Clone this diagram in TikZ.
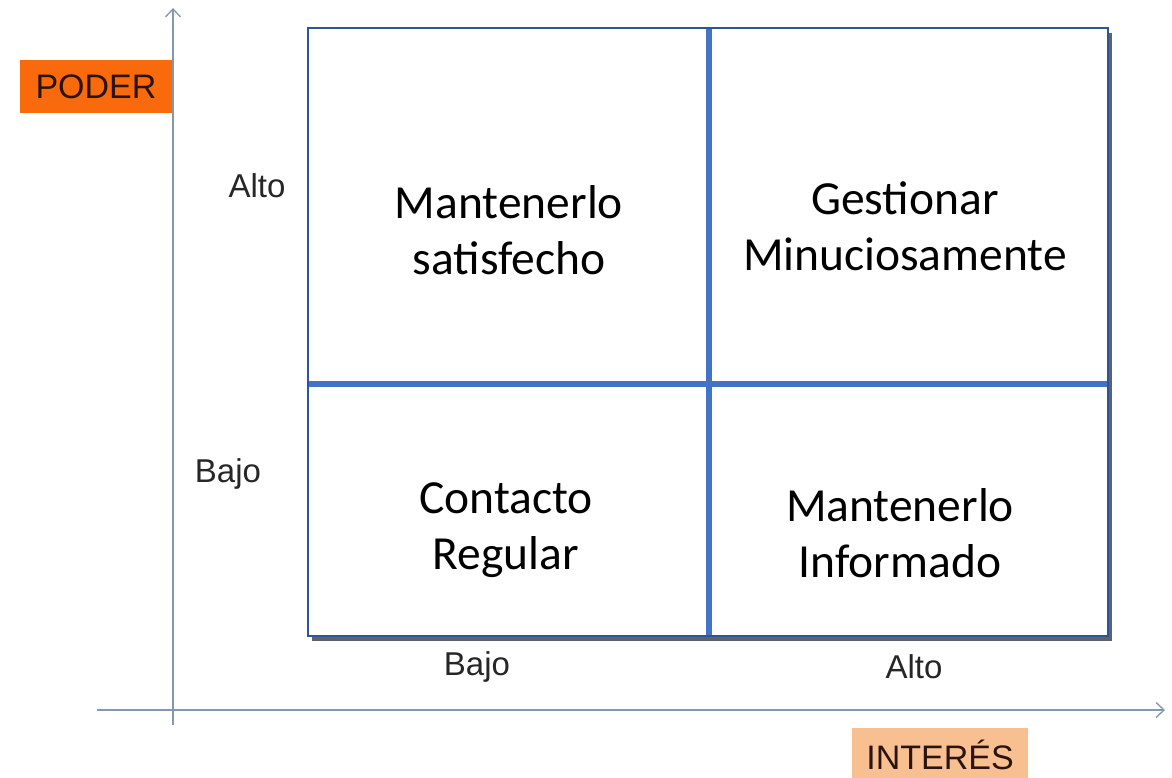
\documentclass[tikz,border=0pt]{standalone}
\usepackage{fontspec}
\setmainfont{Liberation Sans}
\newfontfamily\quadfont{Carlito}
\usetikzlibrary{arrows.meta}
\definecolor{axisgray}{HTML}{8497B0}
\definecolor{gridblue}{HTML}{4472C4}
\definecolor{borderblue}{HTML}{2F5597}
\definecolor{shadowgray}{HTML}{5A6470}
\definecolor{poderorange}{HTML}{F96A0C}
\definecolor{interesorange}{HTML}{F8BF90}
\definecolor{tagtext}{HTML}{2A1410}

\begin{document}
\begin{tikzpicture}[x=1pt, y=-1pt,
    axis/.style={draw=axisgray, line width=1.3pt, -{Straight Barb[length=8pt, width=15pt]}},
    level/.style={font=\fontsize{33}{38}\selectfont, text=black!85, inner sep=0pt},
    quad/.style={font=\quadfont\fontsize{47.5}{56}\selectfont, align=center, inner sep=0pt},
    tag/.style={font=\fontsize{34}{38}\selectfont, text=tagtext, inner sep=0pt}]
        \clip (0,0) rectangle (1172,778);
        \fill[white] (0,0) rectangle (1172,778);

        % axes
        \coordinate (yfoot) at (173,725);
        \coordinate (ytip) at (173,8);
        \coordinate (xfoot) at (97,710);
        \coordinate (xtip) at (1165,710);
        \draw[axis] (yfoot) -- (ytip);
        \draw[axis] (xfoot) -- (xtip);

        % grid corners and middles
        \coordinate (nw) at (308,28);
        \coordinate (se) at (1108,636);
        \coordinate (tm) at (709,28);
        \coordinate (bm) at (709,636);
        \coordinate (ml) at (308,384);
        \coordinate (mr) at (1108,384);
        \fill[shadowgray] ([shift={(4,5)}]nw) rectangle ([shift={(4,5)}]se);
        \fill[white] (nw) rectangle (se);
        \draw[gridblue, line width=6pt] (tm) -- (bm);
        \draw[gridblue, line width=6pt] (ml) -- (mr);
        \draw[borderblue, line width=2.5pt] (nw) rectangle (se);

        % quadrants
        \node[quad] (satisfecho) at (509,230) {Mantenerlo\\satisfecho};
        \node[quad] (gestionar) at (905,226) {Gestionar\\Minuciosamente};
        \node[quad] (contacto) at (506,530) {Contacto\\Regular};
        \node[quad] (informado) at (900,533) {Mantenerlo\\Informado};

        % levels
        \node[level] (poderalto) at (257,186) {Alto};
        \node[level] (poderbajo) at (228,474) {Bajo};
        \node[level] (interesbajo) at (477,667) {Bajo};
        \node[level] (interesalto) at (914,667) {Alto};

        % axis names
        \node[tag, fill=poderorange, minimum width=152pt, minimum height=53pt] (poder) at (96,86.5) {PODER};
        \node[tag, fill=interesorange, minimum width=176pt, minimum height=54pt] (interes) at (940,755) {INTERÉS};
\end{tikzpicture}
\end{document}
